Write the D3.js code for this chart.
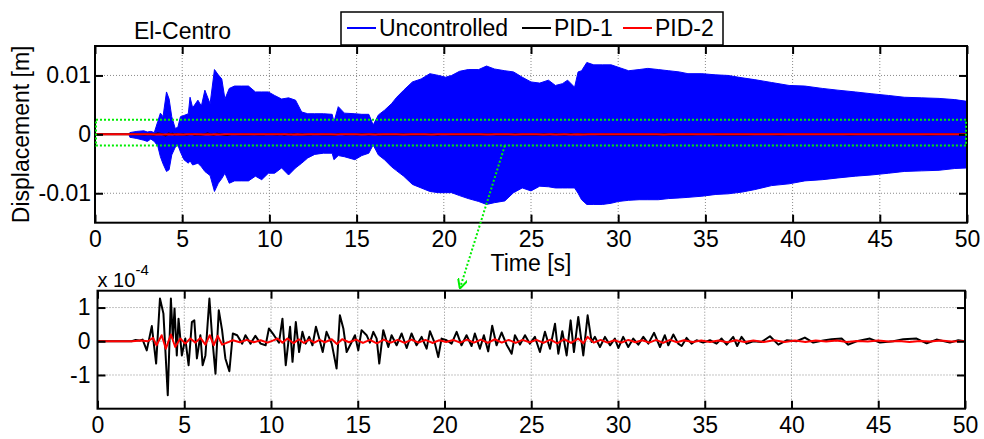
<!DOCTYPE html>
<html>
<head>
<meta charset="utf-8">
<script src="https://cdn.jsdelivr.net/npm/d3@7"></script>
<style>
  body { margin: 0; background: #fff; }
  svg { font-family: "Liberation Sans", Arial, sans-serif; }
</style>
</head>
<body>
<svg id="chart" width="984" height="439"></svg>
<script>
// ---- data ----
// uncontrolled response: peak envelope, in 1e-3 m
const envTime = [0, 1.95, 2.0, 2.4, 2.8, 3.0, 3.2, 3.4, 3.6, 3.75, 3.9, 4.1, 4.25, 4.4, 4.6, 4.75, 4.9,
  5.1, 5.35, 5.45, 5.6, 5.9, 6.1, 6.3, 6.6, 6.85, 7.07, 7.27, 7.45, 7.7, 8.0, 8.4, 8.8, 9.2, 9.56, 9.94,
  10.3, 10.7, 11.1, 11.5, 11.85, 12.2, 12.6, 13.1, 13.6, 13.7, 13.95, 14.3, 14.9, 15.3, 15.7, 15.95,
  16.25, 16.6, 17.0, 17.3, 17.7, 18.2, 18.7, 19.2, 19.7, 20.1, 20.45, 20.9, 21.4, 22.0, 22.45, 22.9,
  23.5, 24.0, 24.5, 25.0, 25.5, 26.0, 26.4, 26.8, 27.1, 27.5, 27.7, 27.9, 28.2, 28.6, 29.1, 29.6,
  30.0, 30.6, 31.2, 31.7, 32.3, 32.9, 33.5, 34.0, 34.8, 35.6, 36.3, 37.1, 37.8, 38.8, 39.8, 40.7,
  41.7, 42.6, 43.6, 44.5, 45.5, 46.4, 47.4, 48.4, 49.3, 50.0]
const envUpper = [0, 0, 0.3, 0.5, 0.6, 0.4, 0.5, 0.3, 2.2, 3.6, 3.0, 7.2, 6.0, 3.0, 1.0, 1.2, 3.0,
  3.2, 3.5, 6.3, 4.5, 5.8, 4.8, 7.5, 5.2, 11.0, 10.1, 9.4, 6.0, 7.8, 8.2, 8.2, 8.2, 7.2, 7.2, 7.2,
  6.6, 6.0, 6.2, 5.8, 3.8, 3.5, 3.5, 3.5, 3.4, 2.1, 4.7, 3.6, 3.5, 3.4, 3.4, 1.6,
  3.3, 4.1, 5.2, 6.3, 7.5, 8.9, 9.4, 10.3, 10.0, 9.7, 10.0, 10.7, 11.0, 11.0, 11.6, 11.1,
  10.8, 10.6, 9.7, 8.9, 8.7, 9.2, 8.3, 8.6, 9.2, 8.0, 10.6, 10.8, 12.2, 11.8, 11.8, 11.8,
  11.4, 10.8, 11.0, 11.2, 11.0, 10.8, 10.6, 10.3, 10.3, 10.1, 10.0, 9.6, 9.3, 8.8, 8.3, 8.2,
  7.8, 7.5, 7.2, 6.9, 6.6, 6.3, 6.2, 6.1, 5.9, 5.6]
const envLower = [0, 0, -0.5, -0.7, -1.0, -1.2, -0.8, -1.2, -2.0, -3.8, -5.0, -6.3, -6.0, -3.5, -2.2, -1.8, -3.0,
  -4.3, -4.9, -4.5, -5.2, -4.9, -5.5, -6.3, -7.0, -9.7, -8.3, -7.5, -6.6, -8.3, -7.9, -7.9, -7.9, -7.1, -7.7, -6.6,
  -6.6, -5.7, -6.9, -5.7, -4.9, -4.0, -3.4, -3.2, -3.2, -4.3, -3.6, -3.8, -4.3, -3.6, -3.2, -1.8,
  -3.5, -4.3, -5.5, -6.2, -7.1, -8.5, -9.1, -9.7, -9.9, -9.9, -9.9, -10.4, -10.9, -11.4, -11.9, -11.6,
  -11.3, -9.9, -9.1, -9.6, -8.8, -8.9, -9.1, -9.1, -9.1, -9.1, -10.0, -11.1, -11.9, -11.9, -11.9, -11.7,
  -11.4, -11.2, -11.1, -11.1, -11.1, -10.9, -10.8, -10.7, -10.5, -10.2, -10.1, -9.8, -9.4, -8.7, -8.4, -7.9,
  -7.7, -7.4, -7.1, -6.9, -6.6, -6.3, -6.2, -6.1, -5.8, -5.7]

// PID-1 response, in 1e-4 m
const pid1Time = [0, 1.97, 2.2, 2.4, 2.6, 2.84, 3.13, 3.38, 3.6, 3.8, 4.05, 4.23, 4.34, 4.44, 4.57, 4.67,
  4.86, 5.06, 5.25, 5.44, 5.58, 5.73, 5.93, 6.06, 6.22, 6.45, 6.6, 6.8, 6.99, 7.18, 7.37, 7.6, 7.8,
  8.05, 8.34, 8.53, 8.82, 9.1, 9.4, 9.69, 9.88, 10.17, 10.46, 10.66, 10.85, 11.1, 11.24, 11.43, 11.62,
  11.81, 12.0, 12.2, 12.39, 12.59, 12.78, 12.98, 13.2, 13.5, 13.78, 13.97, 14.17, 14.36, 14.65, 14.84,
  15.03, 15.22, 15.51, 15.7, 15.9, 16.09, 16.24, 16.47, 16.76, 16.95, 17.24, 17.53, 17.82, 18.1, 18.39,
  18.68, 18.97, 19.16, 19.45, 19.64, 19.83, 20.12, 20.41, 20.7, 20.98, 21.27, 21.56, 21.75, 22.04, 22.27,
  22.52, 22.75, 23.0, 23.29, 23.58, 23.87, 24.06, 24.35, 24.64, 24.92, 25.21, 25.5, 25.79, 26.08, 26.37,
  26.56, 26.79, 27.04, 27.27, 27.46, 27.71, 28.0, 28.25, 28.48, 28.67, 28.96, 29.25, 29.54, 29.82, 30.02,
  30.3, 30.59, 30.88, 31.17, 31.46, 31.75, 32.08, 32.42, 32.7, 32.9, 33.19, 33.47, 33.67, 33.95, 34.24,
  34.53, 34.91, 35.3, 35.68, 35.97, 36.26, 36.64, 36.87, 37.12, 37.41, 37.8, 38.28, 38.76, 39.24, 39.72,
  40.29, 40.77, 41.25, 41.83, 42.31, 42.89, 43.27, 43.75, 44.52, 45.1, 45.87, 46.44, 47.21, 47.79, 48.36,
  49.13, 49.61, 50]
const pid1Val = [0, 0, 0.04, 0.02, 0.05, -0.27, 0.45, -0.66, 1.27, 0.82, -1.6, 1.27, 0.08, 0.97, -0.42, 0.67,
  -0.42, 0.08, -0.71, 0.57, 0.62, -0.51, 0.18, -0.71, -0.42, 1.27, 0.18, -0.96, 0.92, 0.33, -0.51, -0.89, 0.23,
  0.18, -0.07, 0.18, -0.07, 0.16, -0.07, -0.12, 0.38, 0.18, -0.04, 0.67, -0.71, 0.43, -0.61, 0.57, -0.32,
  0.28, -0.07, 0.13, -0.12, 0.43, 0.08, -0.32, 0.28, -0.07, -0.81, 0.77, 0.38, -0.32, -0.02, 0.18,
  -0.27, 0.33, 0.18, -0.04, 0.28, 0.08, -0.66, 0.33, -0.17, 0.18, -0.12, 0.23, -0.2, 0.23, -0.12,
  0.13, -0.22, 0.3, -0.07, -0.47, 0.08, 0.03, -0.07, 0.28, -0.12, 0.18, -0.14, 0.23, -0.22, 0.18,
  -0.3, 0.46, -0.12, 0.26, -0.1, -0.37, 0.18, -0.1, 0.18, -0.07, 0.13, -0.32, 0.28, -0.22, 0.52,
  -0.37, 0.3, -0.42, 0.62, -0.32, 0.72, -0.42, 0.77, -0.02, 0.13, -0.17, 0.13, -0.12, 0.08, -0.2,
  0.13, -0.17, 0.08, -0.1, 0.13, -0.07, 0.25, -0.17, 0.18, -0.12, 0.2, -0.07, -0.14, 0.1, -0.07,
  0.03, -0.04, 0.03, -0.07, 0.08, -0.1, 0.13, -0.14, 0.13, -0.07, 0, -0.02, 0.15, -0.1, 0.03,
  0, 0.11, -0.04, 0.02, 0.06, 0.08, -0.1, 0, 0.08, -0.04, 0, 0.06, 0.08, -0.06, 0.05,
  -0.04, 0.03, 0]

// PID-2 response, in 1e-4 m
const pid2Time = [0, 2.0, 2.5, 2.9, 3.2, 3.4, 3.7, 3.94, 4.23, 4.48, 4.77, 5.06, 5.35, 5.64, 5.93, 6.22,
  6.47, 6.7, 6.93, 7.18, 7.47, 7.8, 8.2, 8.6, 9.0, 9.4, 9.8, 10.1, 10.37, 10.66, 10.95, 11.3, 11.6,
  11.9, 12.2, 12.5, 12.8, 13.1, 13.5, 13.8, 14.1, 14.5, 14.9, 15.3, 15.7, 16.1, 16.5, 16.9, 17.3,
  17.7, 18.1, 18.5, 18.9, 19.3, 19.7, 20.1, 20.5, 20.9, 21.3, 21.7, 22.1, 22.5, 22.9, 23.3, 23.7,
  24.1, 24.5, 24.9, 25.3, 25.7, 26.1, 26.5, 26.9, 27.3, 27.7, 28.0, 28.25, 28.6, 29.0, 29.4, 29.8,
  30.2, 30.6, 31.0, 31.4, 31.8, 32.2, 32.6, 33.0, 33.4, 33.8, 34.3, 34.8, 35.3, 35.8, 36.3, 36.8,
  37.3, 37.8, 38.4, 39.0, 39.6, 40.2, 40.8, 41.4, 42.0, 42.6, 43.2, 43.8, 44.4, 45.0, 45.6, 46.2,
  46.8, 47.4, 48.0, 48.6, 49.2, 50]
const pid2Val = [0, 0, 0.02, 0, 0.1, -0.12, 0.18, -0.22, 0.2, -0.17, 0.08, -0.07, 0.08, -0.04, 0.1, -0.1,
  0.18, -0.12, 0.16, -0.1, -0.04, 0.03, -0.03, 0.04, -0.03, 0.03, -0.04, 0.02, 0.08, -0.04, 0.08, -0.06, 0.06,
  -0.05, 0.05, -0.04, 0.04, -0.03, 0.06, -0.08, 0.06, -0.03, 0.05, -0.05, 0.04, -0.06, 0.05, -0.04, 0.04,
  -0.05, 0.05, -0.04, 0.04, -0.05, 0.03, -0.02, 0.04, -0.04, 0.05, -0.04, 0.05, -0.05, 0.06, -0.04, 0.04,
  -0.05, 0.04, -0.03, 0.04, -0.05, 0.05, -0.06, 0.06, -0.05, 0.08, -0.06, 0.13, -0.04, 0.04, -0.04, 0.03,
  -0.04, 0.04, -0.03, 0.03, -0.04, 0.04, -0.05, 0.04, -0.03, 0.03, -0.02, 0.02, -0.02, 0.02, -0.03, 0.03,
  -0.02, 0.02, -0.02, 0.03, -0.02, 0.02, -0.02, 0.02, -0.01, 0.02, -0.02, 0.01, -0.01, 0.02, -0.01, 0.01,
  -0.02, 0.01, -0.01, 0.02, -0.01, 0.01]

const xTicks = [0, 5, 10, 15, 20, 25, 30, 35, 40, 45, 50]
const topYTicks = [-10, 0, 10]   // 1e-3 m
const botYTicks = [-1, 0, 1]     // 1e-4 m
const zoomBox = [-1.9, 2.5]      // green window, 1e-3 m
const legendNames = ["Uncontrolled", "PID-1", "PID-2"]
const legendColors = ["#0000ff", "#000000", "#ff0000"]

// ---- layout ----
const svg = d3.select("#chart")
const topP = {left: 95, top: 46, width: 872, height: 176.7}
const botP = {left: 97.5, top: 290.7, width: 867.5, height: 118}

const xTop = d3.scaleLinear().domain([0, 50]).range([0, topP.width])
const yTop = d3.scaleLinear().domain([-15, 15]).range([topP.height, 0])
const xBot = d3.scaleLinear().domain([0, 50]).range([0, botP.width])
const yBot = d3.scaleLinear().domain([-2, 1.5]).range([botP.height, 0])

const defs = svg.append("defs")
defs.append("marker")
  .attr("id", "arrowHead")
  .attr("viewBox", "0 0 10 10")
  .attr("refX", 9).attr("refY", 5)
  .attr("markerWidth", 5).attr("markerHeight", 5)
  .attr("orient", "auto-start-reverse")
  .attr("markerUnits", "strokeWidth")
  .append("path")
  .attr("d", "M0,0 L10,5 L0,10")
  .attr("fill", "none")
  .attr("stroke", "#00ee00")
  .attr("stroke-width", 2)

function clip(id, p) {
  defs.append("clipPath").attr("id", id)
    .append("rect").attr("width", p.width).attr("height", p.height)
}
clip("clipTop", topP)
clip("clipBot", botP)

function panelFrame(g, p, x, y, yTicks, yFormat, yPad) {
  // dotted grid
  const grid = g.append("g").attr("class", "grid")
  grid.selectAll(".gx").data(xTicks.filter(d => d > 0 && d < 50)).join("line")
    .attr("x1", d => x(d)).attr("x2", d => x(d))
    .attr("y1", 0).attr("y2", p.height)
  grid.selectAll(".gy").data(yTicks).join("line")
    .attr("x1", 0).attr("x2", p.width)
    .attr("y1", d => y(d)).attr("y2", d => y(d))
  grid.selectAll("line")
    .attr("stroke", "#8a8a8a").attr("stroke-width", 1)
    .attr("stroke-dasharray", "1,2")
}

function panelAxes(g, p, x, y, yTicks, yFormat, yPad) {
  const styleAxis = sel => {
    sel.select(".domain").remove()
    sel.selectAll(".tick line").attr("stroke", "#000").attr("stroke-width", 2)
    sel.selectAll("text").attr("font-size", 23).attr("fill", "#000")
      .attr("font-family", "'Liberation Sans', Arial, sans-serif")
  }
  g.append("g").attr("transform", `translate(0,${p.height})`)
    .call(d3.axisBottom(x).tickValues(xTicks).tickSize(-8).tickPadding(8))
    .call(styleAxis)
  g.append("g")
    .call(d3.axisTop(x).tickValues(xTicks).tickSize(-8).tickFormat(""))
    .call(styleAxis)
  g.append("g")
    .call(d3.axisLeft(y).tickValues(yTicks).tickSize(-8).tickPadding(yPad).tickFormat(yFormat))
    .call(styleAxis)
  g.append("g").attr("transform", `translate(${p.width},0)`)
    .call(d3.axisRight(y).tickValues(yTicks).tickSize(-8).tickFormat(""))
    .call(styleAxis)
  g.append("rect")
    .attr("width", p.width).attr("height", p.height)
    .attr("fill", "none").attr("stroke", "#000").attr("stroke-width", 2)
}

// ---- top panel ----
const gTop = svg.append("g").attr("transform", `translate(${topP.left},${topP.top})`)
const topFormat = d => d === 0 ? "0" : (d / 1000).toString()
panelFrame(gTop, topP, xTop, yTop, topYTicks)

const plotTop = gTop.append("g").attr("clip-path", "url(#clipTop)")
const envData = envTime.map((t, i) => ({t, hi: envUpper[i], lo: envLower[i]}))
plotTop.append("path")
  .datum(envData)
  .attr("fill", "#0000ff")
  .attr("stroke", "#0000ff")
  .attr("stroke-width", 1)
  .attr("d", d3.area().x(d => xTop(d.t)).y0(d => yTop(d.lo)).y1(d => yTop(d.hi)))

const lineTop = d3.line().x(d => xTop(d[0])).y(d => yTop(d[1] / 10))
plotTop.append("path")
  .datum(pid1Time.map((t, i) => [t, pid1Val[i]]))
  .attr("fill", "none").attr("stroke", "#000").attr("stroke-width", 2)
  .attr("d", lineTop)
plotTop.append("path")
  .datum(pid2Time.map((t, i) => [t, pid2Val[i]]))
  .attr("fill", "none").attr("stroke", "#ff0000").attr("stroke-width", 2)
  .attr("d", lineTop)

panelAxes(gTop, topP, xTop, yTop, topYTicks, topFormat, 4)

// green zoom window
gTop.append("rect")
  .attr("x", xTop(0) + 1).attr("y", yTop(zoomBox[1]))
  .attr("width", xTop(50) - xTop(0) - 2)
  .attr("height", yTop(zoomBox[0]) - yTop(zoomBox[1]))
  .attr("fill", "none").attr("stroke", "#00ee00")
  .attr("stroke-width", 2).attr("stroke-dasharray", "2,2")

// ---- bottom panel ----
const gBot = svg.append("g").attr("transform", `translate(${botP.left},${botP.top})`)
panelFrame(gBot, botP, xBot, yBot, botYTicks)
const plotBot = gBot.append("g").attr("clip-path", "url(#clipBot)")
const lineBot = d3.line().x(d => xBot(d[0])).y(d => yBot(d[1]))
plotBot.append("path")
  .datum(pid1Time.map((t, i) => [t, pid1Val[i]]))
  .attr("fill", "none").attr("stroke", "#000").attr("stroke-width", 2)
  .attr("stroke-linejoin", "round")
  .attr("d", lineBot)
plotBot.append("path")
  .datum(pid2Time.map((t, i) => [t, pid2Val[i]]))
  .attr("fill", "none").attr("stroke", "#ff0000").attr("stroke-width", 2)
  .attr("stroke-linejoin", "round")
  .attr("d", lineBot)
panelAxes(gBot, botP, xBot, yBot, botYTicks, d => d.toString(), 7)

// exponent label
gBot.append("text").attr("x", 0).attr("y", -4)
  .attr("font-size", 20).text("x 10")
gBot.append("text").attr("x", 38).attr("y", -16)
  .attr("font-size", 15).text("-4")

// green arrow from window to zoomed panel
svg.append("line")
  .attr("x1", topP.left + xTop(23.5)).attr("y1", topP.top + yTop(zoomBox[0]))
  .attr("x2", botP.left + xBot(20.9)).attr("y2", botP.top - 3)
  .attr("stroke", "#00ee00").attr("stroke-width", 2)
  .attr("stroke-dasharray", "2,2")
  .attr("marker-end", "url(#arrowHead)")

// ---- labels ----
svg.append("text").attr("x", 182.5).attr("y", 39)
  .attr("text-anchor", "middle").attr("font-size", 23).text("El-Centro")
svg.append("text")
  .attr("transform", `translate(29,${topP.top + topP.height / 2}) rotate(-90)`)
  .attr("text-anchor", "middle").attr("font-size", 23).text("Displacement [m]")
svg.append("text").attr("x", topP.left + topP.width / 2).attr("y", 271)
  .attr("text-anchor", "middle").attr("font-size", 23).text("Time [s]")

// ---- legend ----
const legend = svg.append("g")
legend.append("rect")
  .attr("x", 341).attr("y", 12).attr("width", 382).attr("height", 33)
  .attr("fill", "#fff").attr("stroke", "#000").attr("stroke-width", 1.5)
const legendX = [347, 522, 623]
legendNames.forEach((name, i) => {
  legend.append("line")
    .attr("x1", legendX[i]).attr("x2", legendX[i] + 29)
    .attr("y1", 28).attr("y2", 28)
    .attr("stroke", legendColors[i]).attr("stroke-width", 2)
  legend.append("text")
    .attr("x", legendX[i] + 32).attr("y", 36)
    .attr("font-size", 23).text(name)
})
</script>
</body>
</html>
